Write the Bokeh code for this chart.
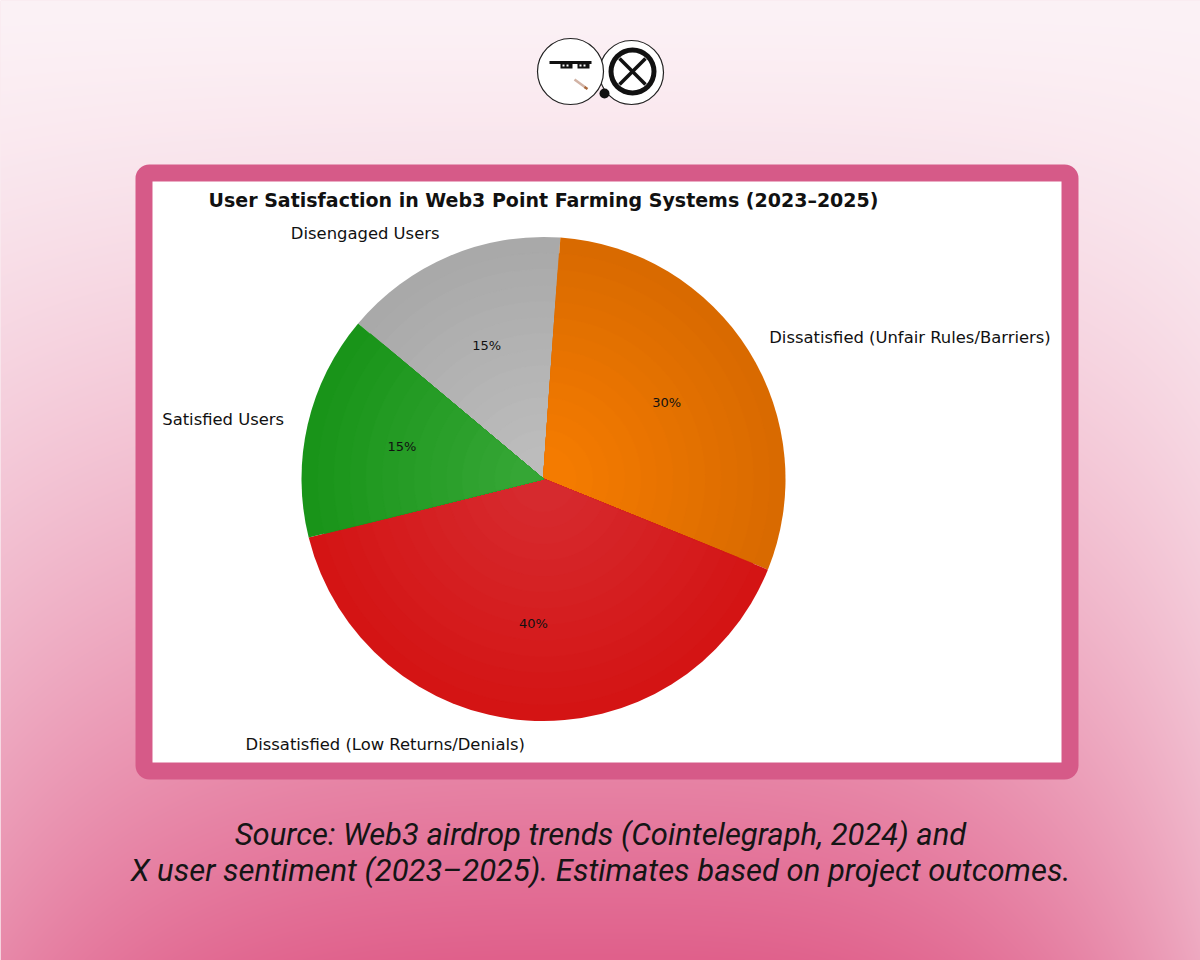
import numpy as np
from bokeh.plotting import figure
from bokeh.models import Range1d, BoxAnnotation
from bokeh.core.properties import value
from bokeh.embed import file_html
from bokeh.resources import INLINE

# ---------------- data ----------------
labels = ["Disengaged Users", "Dissatisfied (Unfair Rules/Barriers)",
          "Dissatisfied (Low Returns/Denials)", "Satisfied Users"]
shares = [15, 30, 40, 15]
edge_colors = ["#a9a9a9", "#d96a00", "#d41414", "#199419"]
center_colors = ["#bcbcbc", "#f47b00", "#d62a2e", "#35a635"]
title = "User Satisfaction in Web3 Point Farming Systems (2023\u20132025)"
source_lines = ["Source: Web3 airdrop trends (Cointelegraph, 2024) and",
                "X user sentiment (2023\u20132025). Estimates based on project outcomes."]

W, H = 1200, 960
p = figure(width=W, height=H, output_backend="svg", toolbar_location=None,
           x_range=Range1d(0, W), y_range=Range1d(0, H),
           x_axis_type=None, y_axis_type=None, min_border=0)
p.outline_line_color = None
p.grid.visible = False
p.background_fill_color = "#f6d7e1"
p.border_fill_color = "#f6d7e1"

def Y(ref_y):
    return H - ref_y

# ---------------- background gradient ----------------
ys = np.arange(0, H)
xs = np.arange(0, W)
XX, YY = np.meshgrid(xs, ys)
ref_y = H - YY
v = ref_y / float(H)
h = (XX - 600) / 600.0
side = np.where(h < 0, 0.28, 0.5)
w = np.clip(v ** 1.3 * (1 - side * np.abs(h) ** 3), 0, 1)
light = np.array([252, 242, 246])
pink = np.array([224, 96, 139])
img = np.empty((len(ys), len(xs)), dtype=np.uint32)
view = img.view(dtype=np.uint8).reshape((len(ys), len(xs), 4))
for c in range(3):
    view[:, :, c] = (light[c] + (pink[c] - light[c]) * w).astype(np.uint8)
view[:, :, 3] = 255
bg = p.image_rgba(image=[img], x=0, y=0, dw=W, dh=H)
bg.level = "image"

# ---------------- panel ----------------
panel = BoxAnnotation(left=135, right=1078, bottom=Y(779), top=Y(164),
                      fill_color="#d65a88", fill_alpha=1.0, line_color=None,
                      border_radius=14, level="underlay")
inner = BoxAnnotation(left=152, right=1061, bottom=Y(762), top=Y(181),
                      fill_color="#ffffff", fill_alpha=1.0, line_color=None,
                      level="underlay")
p.add_layout(panel)
p.add_layout(inner)

# ---------------- pie ----------------
cx, cy, R = 543, Y(478.5), 242
start = 140.0
def hex2rgb(s):
    return np.array([int(s[i:i + 2], 16) for i in (1, 3, 5)])
N = 14
angles = []
a = start
for i, s in enumerate(shares):
    a_end = a - 360.0 * s / sum(shares)
    angles.append((a, a_end))
    e = hex2rgb(edge_colors[i]); c = hex2rgb(center_colors[i])
    for k in range(N):
        t = k / (N - 1)
        col = e + (c - e) * t
        colhex = "#%02x%02x%02x" % tuple(int(round(x)) for x in col)
        p.wedge(x=cx, y=cy, radius=R * (1 - 0.93 * k / N),
                start_angle=np.radians(a_end), end_angle=np.radians(a),
                fill_color=colhex, line_color=colhex if k > 0 else None,
                line_width=0.6 if k > 0 else 0)
    a = a_end

for i, (a0, a1) in enumerate(angles):
    mid = np.radians((a0 + a1) / 2)
    px_, py_ = cx + 0.6 * R * np.cos(mid), cy + 0.6 * R * np.sin(mid)
    p.text(x=[px_], y=[py_], text=["%d%%" % shares[i]], text_font=value("DejaVu Sans"),
           text_font_size="13px", text_align="center", text_baseline="middle",
           text_color="#111111")
    lx, ly = cx + 1.1 * R * np.cos(mid), cy + 1.1 * R * np.sin(mid)
    p.text(x=[lx], y=[ly], text=[labels[i]], text_font=value("DejaVu Sans"),
           text_font_size="16.4px", text_align="right" if np.cos(mid) < 0 else "left",
           text_baseline="middle", text_color="#111111")

p.text(x=[543], y=[Y(199)], text=[title], text_font=value("DejaVu Sans"),
       text_font_size="19px", text_font_style="bold", text_align="center",
       text_baseline="middle", text_color="#111111")

# ---------------- source ----------------
for j, line in enumerate(source_lines):
    p.text(x=[600], y=[Y(834 + 36 * j)], text=[line], text_font=value("Roboto"),
           text_font_size="31px", text_font_style="italic", text_align="center",
           text_baseline="middle", text_color="#151515")

# ---------------- logo ----------------
p.circle(x=[631], y=[Y(72)], radius=32, fill_color="#ffffff", line_color="#222222", line_width=1.2)
p.annulus(x=[632], y=[Y(71)], inner_radius=19, outer_radius=24, fill_color="#111111", line_color=None)
p.segment(x0=[619, 619], y0=[Y(58), Y(84)], x1=[645, 645], y1=[Y(84), Y(58)],
          line_color="#111111", line_width=3.5)
p.circle(x=[570], y=[Y(71)], radius=33, fill_color="#ffffff", line_color="#222222", line_width=1.2)
p.circle(x=[604], y=[Y(93)], radius=5, fill_color="#111111", line_color=None)
p.quad(left=[549], right=[591], bottom=[Y(63.5)], top=[Y(60.5)], fill_color="#111111", line_color=None)
p.quad(left=[560, 577], right=[572, 589], bottom=[Y(68), Y(68)], top=[Y(61), Y(61)],
       fill_color="#111111", line_color=None)
p.quad(left=[562, 566, 579, 583], right=[564, 568, 581, 585],
       bottom=[Y(66), Y(66), Y(66), Y(66)], top=[Y(64), Y(64), Y(64), Y(64)],
       fill_color="#ffffff", line_color=None)
p.segment(x0=[574], y0=[Y(79)], x1=[585], y1=[Y(87)], line_color="#d2b3a5", line_width=2.5)
p.segment(x0=[584], y0=[Y(86.5)], x1=[587], y1=[Y(88.5)], line_color="#a9673a", line_width=2.5)

open("out.html", "w").write(file_html(p, INLINE))
